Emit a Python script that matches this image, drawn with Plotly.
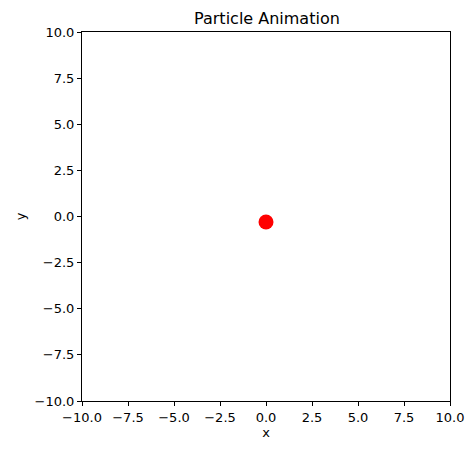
import plotly.graph_objects as go

particle_x = [0.0]
particle_y = [-0.3]
tick_vals = [-10, -7.5, -5, -2.5, 0, 2.5, 5, 7.5, 10]
tick_text = ["\u221210.0", "\u22127.5", "\u22125.0", "\u22122.5", "0.0", "2.5", "5.0", "7.5", "10.0"]

fig = go.Figure(go.Scatter(
    x=particle_x, y=particle_y, mode="markers",
    marker=dict(color="red", size=15), showlegend=False,
))

axis = dict(
    range=[-10, 10], tickvals=tick_vals, ticktext=tick_text,
    showgrid=False, zeroline=False, showline=True, mirror=True,
    linecolor="black", linewidth=1, ticks="outside", ticklen=4,
    tickcolor="black", tickfont=dict(size=13, color="black"),
)
fig.update_xaxes(**axis, title=dict(text="x", font=dict(size=13, color="black"), standoff=4))
fig.update_yaxes(**axis, title=dict(text="y", font=dict(size=13, color="black"), standoff=6))

fig.update_layout(
    width=476, height=455,
    margin=dict(l=74, r=34, t=24, b=62),
    plot_bgcolor="white", paper_bgcolor="white",
    font=dict(family="DejaVu Sans", color="black"),
    title=dict(text="Particle Animation", x=0.544, xanchor="center",
               y=0.978, yanchor="middle", font=dict(size=16, color="black")),
)

fig.write_html("out.html")
